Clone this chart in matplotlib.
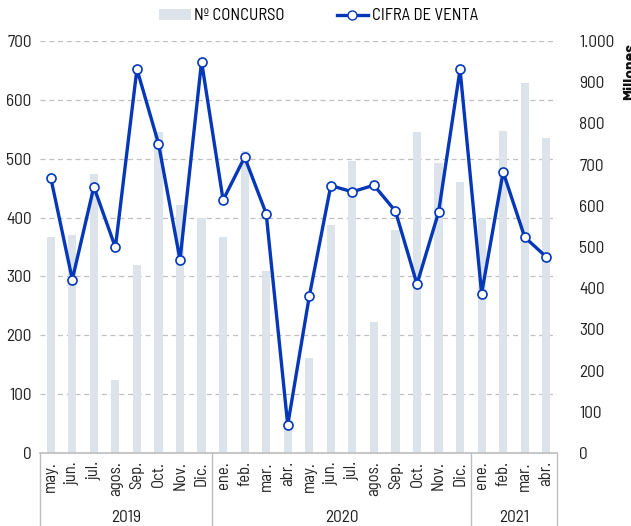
import matplotlib.pyplot as plt
from matplotlib.lines import Line2D
from matplotlib.patches import Patch
from matplotlib.ticker import FuncFormatter

plt.rcParams['font.family'] = ['Barlow Semi Condensed', 'DejaVu Sans']

months = ['may.', 'jun.', 'jul.', 'agos.', 'Sep.', 'Oct.', 'Nov.', 'Dic.',
          'ene.', 'feb.', 'mar.', 'abr.', 'may.', 'jun.', 'jul.', 'agos.',
          'Sep.', 'Oct.', 'Nov.', 'Dic.',
          'ene.', 'feb.', 'mar.', 'abr.']
years = ['2019', '2020', '2021']
year_counts = [8, 12, 4]

concursos = [367, 370, 474, 124, 319, 546, 421, 400,
             367, 513, 310, 42, 161, 387, 496, 223,
             379, 546, 492, 460,
             400, 547, 629, 535]
ventas = [668, 421, 646, 499, 932, 751, 469, 950,
          614, 718, 581, 68, 380, 649, 634, 650,
          587, 410, 584, 931,
          387, 682, 524, 476]

bar_color = '#dce3eb'
line_color = '#0538b8'
grid_color = '#c0c0c0'
text_color = '#222222'

fig = plt.figure(figsize=(6.31, 5.26), dpi=100)
ax = fig.add_axes([40/631, 1-453/526, 517/631, 412/526])
ax2 = ax.twinx()

x = list(range(len(months)))
ax.bar(x, concursos, width=0.38, color=bar_color, zorder=2)
ax2.plot(x, ventas, color=line_color, lw=2.4, marker='o', markersize=6.5,
         markerfacecolor='white', markeredgecolor=line_color, markeredgewidth=1.2, zorder=3)

ax.set_xlim(-0.5, len(months) - 0.5)
ax.set_ylim(0, 700)
ax2.set_ylim(0, 1000)
ax.set_yticks(range(0, 701, 100))
ax2.set_yticks(range(0, 1001, 100))
ax2.yaxis.set_major_formatter(FuncFormatter(lambda v, p: f'{int(v):,}'.replace(',', '.')))

for y in range(100, 701, 100):
    ax.axhline(y, color=grid_color, lw=0.9, ls=(0, (4, 3)), zorder=1)

for a in (ax, ax2):
    for s in a.spines.values():
        s.set_visible(False)
    a.tick_params(length=0, labelsize=12.5, colors=text_color)
ax.spines['bottom'].set_visible(True)
ax.spines['bottom'].set_color('#bdbdbd')
ax.spines['bottom'].set_linewidth(1.2)
ax.tick_params(axis='y', pad=6)
ax2.tick_params(axis='y', pad=16)

ax.set_xticks(x)
ax.set_xticklabels(months, rotation=90, fontsize=12, color=text_color, va='top')
ax.tick_params(axis='x', pad=6)

# year groups under month labels
trans = ax.get_xaxis_transform()
start = 0
bounds = [-0.5]
for yr, n in zip(years, year_counts):
    ax.text(start + (n - 1) / 2, -0.157, yr, transform=trans, ha='center', va='center',
            fontsize=12.5, color=text_color)
    start += n
    bounds.append(start - 0.5)
for b in bounds:
    ax.add_line(Line2D([b, b], [0, -0.2], transform=trans, color='#bdbdbd', lw=1, clip_on=False))

fig.text(0.999, 1-43/526, 'Millones', rotation=90, ha='center', va='top',
         fontsize=12.5, fontweight='bold', color='#111111')

handles = [Patch(facecolor=bar_color, edgecolor='none'),
           Line2D([0], [0], color=line_color, lw=2.4, marker='o', markersize=6.5,
                  markerfacecolor='white', markeredgecolor=line_color)]
fig.legend(handles, ['Nº CONCURSO', 'CIFRA DE VENTA'], loc='center', ncol=2,
           bbox_to_anchor=(0.505, 1-16/526), frameon=False, fontsize=12,
           handlelength=1.9, handletextpad=0.2, columnspacing=3.1)

fig.savefig('out.png', dpi=100)
